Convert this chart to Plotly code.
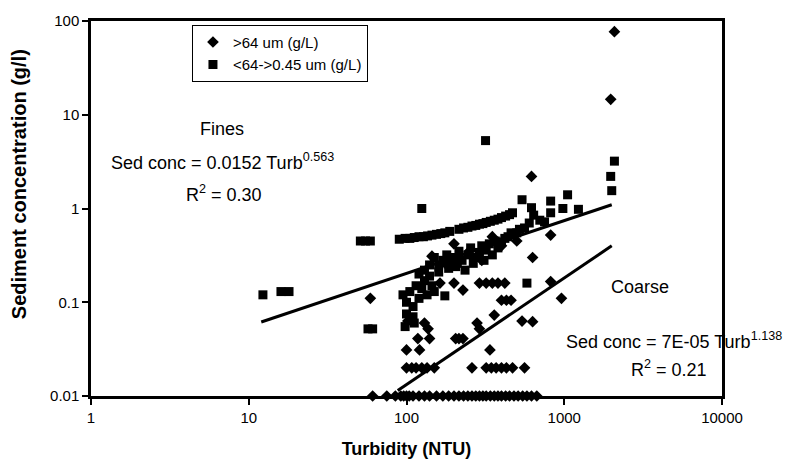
import plotly.graph_objects as go
import numpy as np

# ---- Data ----
coarse_x = [2080, 1970, 620,
            200, 145, 630, 820, 250, 300, 400, 500, 180, 350,
            59,
            163, 200, 228, 290, 320, 350, 380, 420, 820,
            960, 400, 430, 460,
            102, 130, 137, 140, 118, 100, 121,
            205, 215, 228, 280, 290, 360, 338, 540, 630,
            100, 108, 115, 125, 135, 150, 260, 320, 345, 370, 400, 430, 470, 560,
            61, 75, 85, 92, 96, 100, 104, 110, 120, 130, 140, 155, 170, 185, 200,
            215, 230, 245, 260, 275, 290, 305, 320, 340, 360, 380, 400, 425, 450,
            480, 510, 545, 580, 620, 670]
coarse_y = [77, 14.6, 2.2,
            0.42, 0.31, 0.30, 0.52, 0.35, 0.28, 0.40, 0.45, 0.25, 0.50,
            0.11,
            0.16, 0.16, 0.135, 0.16, 0.16, 0.16, 0.16, 0.16, 0.166,
            0.11, 0.105, 0.105, 0.105,
            0.063, 0.06, 0.052, 0.041, 0.041, 0.031, 0.031,
            0.041, 0.041, 0.041, 0.06, 0.052, 0.073, 0.031, 0.063, 0.062,
            0.02, 0.02, 0.02, 0.02, 0.02, 0.02, 0.02, 0.02, 0.02, 0.02, 0.02, 0.02, 0.02, 0.02,
            0.01, 0.01, 0.01, 0.01, 0.01, 0.01, 0.01, 0.01, 0.01, 0.01, 0.01, 0.01, 0.01, 0.01, 0.01,
            0.01, 0.01, 0.01, 0.01, 0.01, 0.01, 0.01, 0.01, 0.01, 0.01, 0.01, 0.01, 0.01, 0.01,
            0.01, 0.01, 0.01, 0.01, 0.01, 0.01]

fines_x = [12.3, 16, 18, 51, 55, 59, 57, 61,
           90, 98, 105, 112, 120, 128, 136, 145, 155, 165, 175, 188,
           215, 230, 245, 260, 275, 290, 305, 320, 340, 360, 380, 400, 425, 450, 470,
           125, 317, 540, 620, 820, 1050, 980, 1230, 820, 640, 2080, 1970, 2000,
           150, 160, 170, 180, 190, 200, 205, 215, 225, 235, 245, 255, 265, 275, 290,
           300, 310, 320, 335, 350, 365, 380, 400, 420, 440, 460, 500, 520, 560, 600, 700, 750,
           95, 100, 105, 110, 115, 120, 125, 130, 135, 140, 145, 150, 100, 105, 110, 98, 112,
           175, 580, 120, 130, 140, 160, 185, 210]
fines_y = [0.12, 0.13, 0.13, 0.45, 0.45, 0.45, 0.052, 0.052,
           0.47, 0.48, 0.48, 0.49, 0.50, 0.50, 0.51, 0.52, 0.53, 0.54, 0.55, 0.57,
           0.60, 0.62, 0.63, 0.65, 0.66, 0.68, 0.69, 0.71, 0.73, 0.75, 0.77, 0.80, 0.83, 0.86, 0.90,
           1.0, 5.3, 1.24, 1.02, 1.2, 1.4, 1.0, 0.98, 0.9, 0.85, 3.2, 2.2, 1.55,
           0.30, 0.25, 0.28, 0.32, 0.27, 0.30, 0.24, 0.35, 0.28, 0.22, 0.32, 0.38, 0.26, 0.30, 0.34,
           0.40, 0.28, 0.36, 0.42, 0.32, 0.45, 0.38, 0.44, 0.48, 0.50, 0.55, 0.55, 0.60, 0.62, 0.70, 0.75, 0.72,
           0.12, 0.10, 0.13, 0.09, 0.15, 0.11, 0.14, 0.17, 0.12, 0.19, 0.15, 0.13, 0.075, 0.065, 0.07, 0.055, 0.06,
           0.117, 0.16, 0.20, 0.22, 0.25, 0.21, 0.23, 0.26]

# Power-law fits shown on chart: Sed conc = a * Turb^b
fines_fit = dict(a=0.0152, b=0.563, xmin=12, xmax=2000)
coarse_fit = dict(a=7e-05, b=1.138, xmin=88, xmax=2000)

x_tickvals = [1, 10, 100, 1000, 10000]
x_ticktext = ["1", "10", "100", "1000", "10000"]
y_tickvals = [0.01, 0.1, 1, 10, 100]
y_ticktext = ["0.01", "0.1", "1", "10", "100"]

FONT = "Arial, Liberation Sans, sans-serif"

fig = go.Figure()

fig.add_trace(go.Scatter(
    x=coarse_x, y=coarse_y, mode="markers", name=">64 um (g/L)",
    marker=dict(symbol="diamond", size=9, color="black"), cliponaxis=False))
fig.add_trace(go.Scatter(
    x=fines_x, y=fines_y, mode="markers", name="<64->0.45 um (g/L)",
    marker=dict(symbol="square", size=9, color="black"), cliponaxis=False))

for fit in (fines_fit, coarse_fit):
    xs = np.logspace(np.log10(fit["xmin"]), np.log10(fit["xmax"]), 50)
    ys = fit["a"] * xs ** fit["b"]
    fig.add_trace(go.Scatter(x=xs, y=ys, mode="lines", showlegend=False,
                             line=dict(color="black", width=3), hoverinfo="skip"))

axis_common = dict(showline=True, linecolor="black", linewidth=2.5, mirror=True,
                   showgrid=False, zeroline=False, ticks="outside", ticklen=6,
                   tickwidth=2, tickcolor="black",
                   tickfont=dict(family=FONT, size=15, color="black"))

fig.update_xaxes(type="log", range=[0, 4], tickvals=x_tickvals, ticktext=x_ticktext,
                 title=dict(text="<b>Turbidity (NTU)</b>", font=dict(family=FONT, size=18, color="black"),
                            standoff=18),
                 **axis_common)
fig.update_yaxes(type="log", range=[-2, 2], tickvals=y_tickvals, ticktext=y_ticktext,
                 **axis_common)

# y-axis title (placed like in the reference, slightly above the axis centre)
fig.add_annotation(text="<b>Sediment concentration (g/l)</b>", x=-0.114, y=0.565,
                   xref="paper", yref="paper", showarrow=False, textangle=-90,
                   font=dict(family=FONT, size=20, color="black"),
                   xanchor="center", yanchor="middle")

ann_font = dict(family=FONT, size=18, color="black")
anns = [
    ("Fines", 0.207, 0.712, "center"),
    ("Sed conc = 0.0152 Turb<sup>0.563</sup>", 0.209, 0.625, "center"),
    ("R<sup>2</sup> = 0.30", 0.211, 0.54, "center"),
    ("Coarse", 0.870, 0.290, "center"),
    ("Sed conc = 7E-05 Turb<sup>1.138</sup>", 1.098, 0.148, "right"),
    ("R<sup>2</sup> = 0.21", 0.916, 0.074, "center"),
]
for text, ax, ay, anc in anns:
    fig.add_annotation(text=text, x=ax, y=ay, xref="paper", yref="paper",
                       showarrow=False, font=ann_font, xanchor=anc, yanchor="middle")

fig.update_layout(
    width=786, height=470,
    margin=dict(l=91, r=64, t=17, b=74),
    paper_bgcolor="white", plot_bgcolor="white",
    font=dict(family=FONT, color="black"),
    legend=dict(x=0.16, y=0.99, xanchor="left", yanchor="top",
                bordercolor="black", borderwidth=1, bgcolor="white",
                font=dict(family=FONT, size=15, color="black"),
                itemwidth=30, tracegroupgap=0),
)

fig.write_html("out.html")
